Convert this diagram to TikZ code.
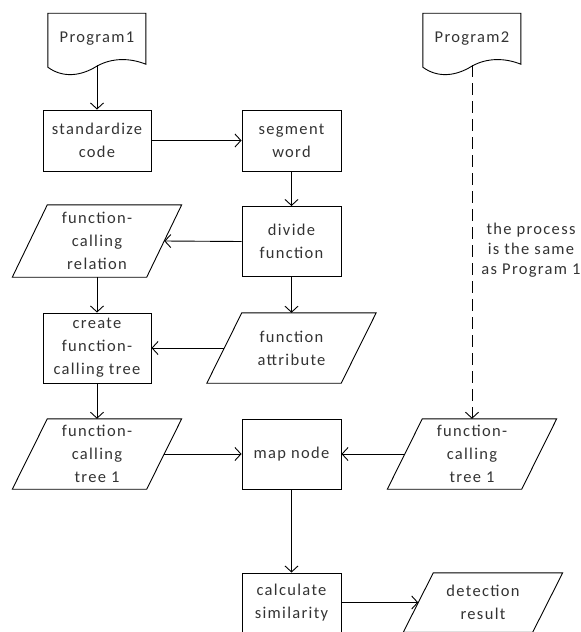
\documentclass[tikz,border=0pt]{standalone}
\usepackage{fontspec}
\setmainfont{Carlito}[LetterSpace=8]
\usetikzlibrary{arrows.meta, positioning, calc}

\tikzset{
  flow/.style={font=\fontsize{16.5}{23}\selectfont, text=black!80, align=center, inner sep=0pt},
  procbox/.style={flow, draw, line width=0.9pt, rectangle, minimum width=99pt, minimum height=70pt},
  iobox/.style={flow, rectangle, minimum width=134pt, minimum height=70pt},
  docbox/.style={flow, rectangle, minimum width=98pt, minimum height=52pt},
  link/.style={-{Straight Barb[length=6pt,width=13pt]}, line width=0.9pt}
}
% parallelogram outline round a plain node
\newcommand{\ioshape}[2][17.5]{%
  \draw[line width=0.9pt] ([xshift=#1pt]#2.north west) -- ([xshift=#1pt]#2.north east)
    -- ([xshift=-#1pt]#2.south east) -- ([xshift=-#1pt]#2.south west) -- cycle;}
% document outline with a wavy foot
\newcommand{\docshape}[1]{%
  \draw[line width=0.9pt, shift={(#1.south west)}] (0,-52) -- (0,2)
    .. controls (15,13) and (33,11) .. (49,1)
    .. controls (65,-8) and (83,-7) .. (98,-1) -- (98,-52) -- cycle;}

\begin{document}
\begin{tikzpicture}[x=1pt, y=-1pt]
  \useasboundingbox (0,0) rectangle (581,632);
  % left column
  \node[docbox] (prog1) at (97,39) {Program1};
  \node[procbox, minimum width=108pt, minimum height=61pt] (std) at (97,140.5) {standardize\\code};
  \node[iobox, minimum height=72pt] (rel) at (97,241) {function-\\calling\\relation};
  \node[procbox, minimum width=108pt] (tree) at (97,348) {create\\function-\\calling tree};
  \node[iobox] (tree1) at (97,454) {function-\\calling\\tree 1};
  % middle column
  \node[procbox, minimum height=61pt] (seg) at (291.5,140.5) {segment\\word};
  \node[procbox] (div) at (291.5,241.5) {divide\\function};
  \node[iobox] (attr) at (291.5,348) {function\\attribute};
  \node[procbox] (map) at (291.5,454) {map node};
  \node[procbox, minimum height=59pt] (sim) at (291.5,602.5) {calculate\\similarity};
  % right column
  \node[docbox] (prog2) at (472,39) {Program2};
  \node[iobox] (tree2) at (472,454) {function-\\calling\\tree 1};
  \node[iobox, minimum width=129pt, minimum height=59pt] (res) at (483,602.5) {detection\\result};
  \node[flow, font=\fontsize{16.5}{20}\selectfont] (note) at (531,250) {the process\\is the same\\as Program 1};

  \docshape{prog1}
  \docshape{prog2}
  \ioshape{rel}
  \ioshape{attr}
  \ioshape{tree1}
  \ioshape{tree2}
  \ioshape[15]{res}

  % connectors
  \draw[link] (prog1.south) -- (std.north);
  \draw[link] (std.east) -- (seg.west);
  \draw[link] (seg.south) -- (div.north);
  \draw[link] (div.west) -- (rel.east);
  \draw[link] (div.south) -- (attr.north);
  \draw[link] (rel.south) -- (tree.north);
  \draw[link] (attr.west) -- (tree.east);
  \draw[link] (tree.south) -- (tree1.north);
  \draw[link] (tree1.east) -- (map.west);
  \draw[link] (tree2.west) -- (map.east);
  \draw[link] (map.south) -- (sim.north);
  \draw[link] (sim.east) -- (res.west);
  \draw[link, dash pattern=on 12pt off 6pt] (prog2.south) -- (tree2.north);
\end{tikzpicture}
\end{document}
